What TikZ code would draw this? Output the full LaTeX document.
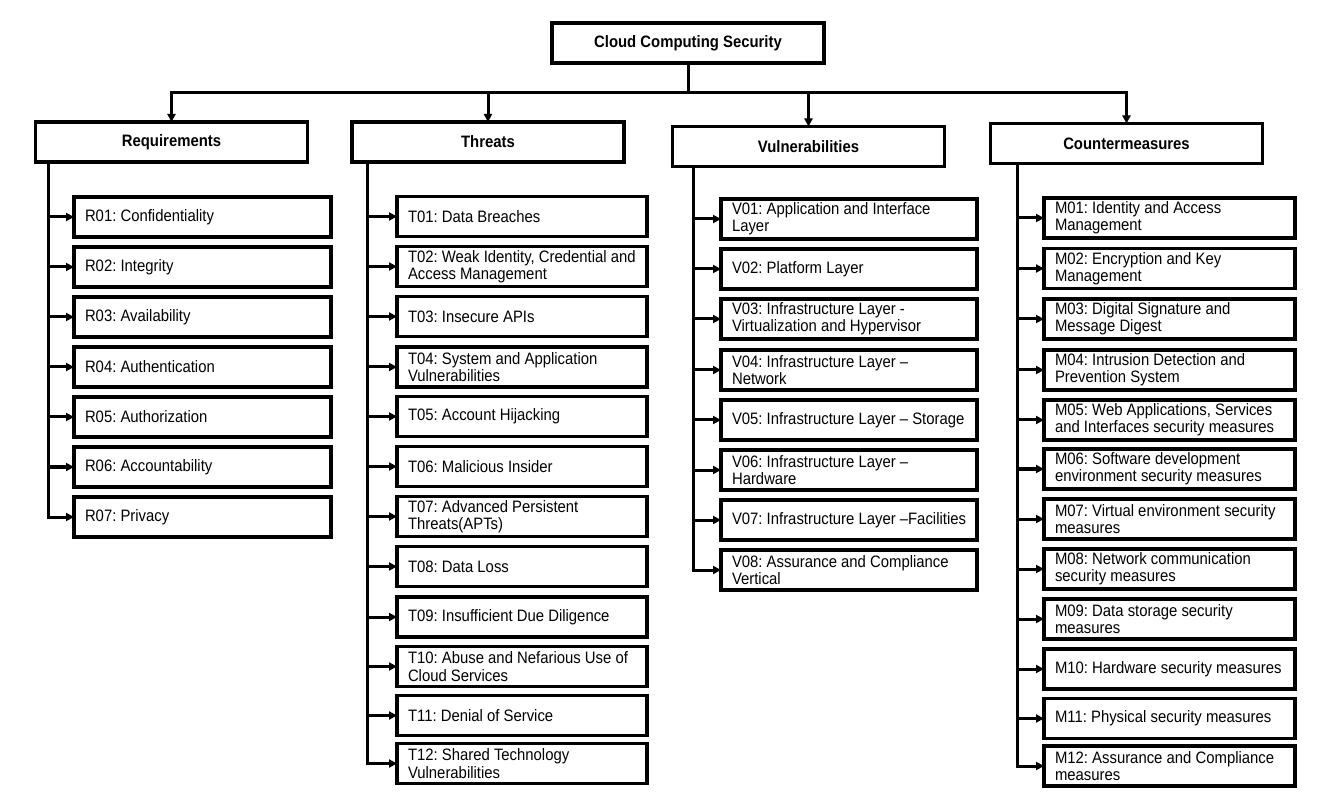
\documentclass[tikz,border=0pt]{standalone}
\usepackage{fontspec}
\setmainfont{Liberation Sans}[FakeStretch=0.9]
\usetikzlibrary{arrows.meta}
\newlength\itemboxw
\newcommand\itemtxt[1]{\parbox{\itemboxw}{\leftskip=8.25pt\rightskip=0pt plus 1fil\relax\parfillskip=0pt plus 1fil\relax\hyphenpenalty=10000\relax\exhyphenpenalty=10000\relax\frenchspacing #1}}
\begin{document}
\frenchspacing
\begin{tikzpicture}[x=0.75pt,y=-0.75pt,
  every node/.style={font=\fontsize{12.4pt}{13pt}\selectfont\frenchspacing, outer sep=0pt},
  topbox/.style={draw, line width=2.4pt, minimum width=204pt, minimum height=30pt, inner sep=0pt, font=\fontsize{12.4pt}{13pt}\selectfont\bfseries},
  item/.style={draw, line width=2.4pt, anchor=west, minimum height=30pt, inner sep=0pt},
  conn/.style={line width=2.25pt},
  arr/.style={conn, -{Triangle[length=6pt,width=6pt]}}
]
\useasboundingbox (0,0) rectangle (1321,798);

% top level
\node[topbox] (root) at (688,43) {Cloud Computing Security};
\node[topbox] (req) at (171.5,142) {Requirements};
\node[topbox] (thr) at (488,142) {Threats};
\node[topbox] (vul) at (808.5,146.5) {Vulnerabilities};
\node[topbox] (cou) at (1126.5,143.5) {Countermeasures};

\coordinate (bus) at (688,93);
\draw[conn] (root.south) -- (bus);
\draw[arr] (bus) -| (req.north);
\draw[arr] (bus) -| (cou.north);
\draw[arr] (thr.north |- bus) -- (thr.north);
\draw[arr] (vul.north |- bus) -- (vul.north);

% Requirements
\begin{scope}[every node/.append style={item}]
\setlength\itemboxw{192.75pt}
\node (r1) at (74,217) {\itemtxt{R01: Confidentiality}};
\node (r2) at (74,267) {\itemtxt{R02: Integrity}};
\node (r3) at (74,317) {\itemtxt{R03: Availability}};
\node (r4) at (74,367) {\itemtxt{R04: Authentication}};
\node (r5) at (74,417) {\itemtxt{R05: Authorization}};
\node (r6) at (74,467) {\itemtxt{R06: Accountability}};
\node (r7) at (74,517) {\itemtxt{R07: Privacy}};
\end{scope}
\coordinate (rs) at (48,0);
\draw[arr] (req.south -| rs) |- (r7.west);
\foreach \n in {r1,r2,r3,r4,r5,r6} \draw[arr] (rs |- \n.west) -- (\n.west);

% Threats
\begin{scope}[every node/.append style={item}]
\setlength\itemboxw{187.5pt}
\node (t1) at (397,216.5) {\itemtxt{T01: Data Breaches}};
\node (t2) at (397,266.5) {\itemtxt{T02: Weak Identity, Credential and\\Access Management}};
\node (t3) at (397,316.5) {\itemtxt{T03: Insecure APIs}};
\node (t4) at (397,367) {\itemtxt{T04: System and Application\\Vulnerabilities}};
\node (t5) at (397,416.5) {\itemtxt{T05: Account Hijacking}};
\node (t6) at (397,466.5) {\itemtxt{T06: Malicious Insider}};
\node (t7) at (397,516.5) {\itemtxt{T07: Advanced Persistent\\Threats(APTs)}};
\node (t8) at (397,566.5) {\itemtxt{T08: Data Loss}};
\node (t9) at (397,617) {\itemtxt{T09: Insufficient Due Diligence}};
\node (t10) at (397,666.5) {\itemtxt{T10: Abuse and Nefarious Use of\\Cloud Services}};
\node (t11) at (397,715.5) {\itemtxt{T11: Denial of Service}};
\node (t12) at (397,763.5) {\itemtxt{T12: Shared Technology\\Vulnerabilities}};
\end{scope}
\coordinate (ts) at (367,0);
\draw[arr] (thr.south -| ts) |- (t12.west);
\foreach \n in {t1,t2,t3,t4,t5,t6,t7,t8,t9,t10,t11} \draw[arr] (ts |- \n.west) -- (\n.west);

% Vulnerabilities
\begin{scope}[every node/.append style={item}]
\setlength\itemboxw{192pt}
\node (v1) at (721,219) {\itemtxt{V01: Application and Interface\\Layer}};
\node (v2) at (721,269) {\itemtxt{V02: Platform Layer}};
\node (v3) at (721,319) {\itemtxt{V03: Infrastructure Layer -\\Virtualization and Hypervisor}};
\node (v4) at (721,370) {\itemtxt{V04: Infrastructure Layer –\\Network}};
\node (v5) at (721,420) {\itemtxt{V05: Infrastructure Layer – Storage}};
\node (v6) at (721,470) {\itemtxt{V06: Infrastructure Layer –\\Hardware}};
\node (v7) at (721,520) {\itemtxt{V07: Infrastructure Layer –Facilities}};
\node (v8) at (721,570) {\itemtxt{V08: Assurance and Compliance\\Vertical}};
\end{scope}
\coordinate (vs) at (693,0);
\draw[arr] (vul.south -| vs) |- (v8.west);
\foreach \n in {v1,v2,v3,v4,v5,v6,v7} \draw[arr] (vs |- \n.west) -- (\n.west);

% Countermeasures
\begin{scope}[every node/.append style={item}]
\setlength\itemboxw{188.25pt}
\node (m1) at (1044,218) {\itemtxt{M01: Identity and Access\\Management}};
\node (m2) at (1044,268.5) {\itemtxt{M02: Encryption and Key\\Management}};
\node (m3) at (1044,319) {\itemtxt{M03: Digital Signature and\\Message Digest}};
\node (m4) at (1044,370) {\itemtxt{M04: Intrusion Detection and\\Prevention System}};
\node (m5) at (1044,420) {\itemtxt{M05: Web Applications, Services\\and Interfaces security measures}};
\node (m6) at (1044,469) {\itemtxt{M06: Software development\\environment security measures}};
\node (m7) at (1044,519) {\itemtxt{M07: Virtual environment security\\measures}};
\node (m8) at (1044,569) {\itemtxt{M08: Network communication\\security measures}};
\node (m9) at (1044,619) {\itemtxt{M09: Data storage security\\measures}};
\node (m10) at (1044,669) {\itemtxt{M10: Hardware security measures}};
\node (m11) at (1044,718.5) {\itemtxt{M11: Physical security measures}};
\node (m12) at (1044,766) {\itemtxt{M12: Assurance and Compliance\\measures}};
\end{scope}
\coordinate (ms) at (1017,0);
\draw[arr] (cou.south -| ms) |- (m12.west);
\foreach \n in {m1,m2,m3,m4,m5,m6,m7,m8,m9,m10,m11} \draw[arr] (ms |- \n.west) -- (\n.west);
\end{tikzpicture}
\end{document}
